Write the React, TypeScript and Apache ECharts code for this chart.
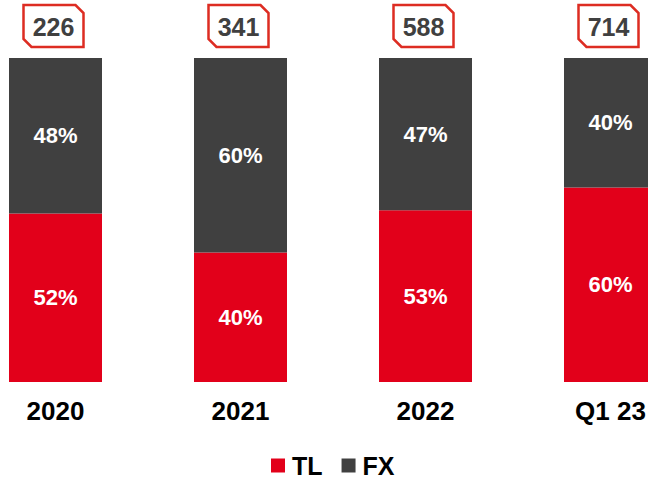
import React, { useEffect, useRef } from "react";
import * as echarts from "echarts";

const categories = ["2020", "2021", "2022", "Q1 23"];
const tlShare = [52, 40, 53, 60];
const fxShare = [48, 60, 47, 40];
const totals = [226, 341, 588, 714];

const RED = "#E2001A";
const DARK = "#404040";
const FONT = "'Liberation Sans', Arial, sans-serif";
const SHIFT = 37;

export default function App() {
  const ref = useRef<HTMLDivElement>(null);
  useEffect(() => {
    if (!ref.current) return;
    const chart = echarts.init(ref.current, null, { renderer: "svg" });
    const boxW = 60;
    const boxH = 42;
    const cut = 8;
    chart.setOption({
      animation: false,
      textStyle: { fontFamily: FONT },
      grid: { left: 0, width: 740, top: 58, height: 324, containLabel: false },
      legend: {
        data: ["TL", "FX"],
        left: 266 + SHIFT,
        top: 448,
        icon: "rect",
        itemWidth: 14,
        itemHeight: 14,
        itemGap: 19,
        textStyle: {
          fontSize: 25,
          fontWeight: "bold",
          color: "#000",
          fontFamily: FONT,
          padding: [0, 0, 0, 2],
        },
      },
      xAxis: {
        type: "category",
        data: categories,
        axisLine: { show: false },
        axisTick: { show: false },
        axisLabel: {
          fontSize: 26,
          fontWeight: "bold",
          color: "#000",
          fontFamily: FONT,
          margin: 16,
        },
      },
      yAxis: { type: "value", min: 0, max: 100, show: false, splitLine: { show: false } },
      series: [
        {
          name: "TL",
          type: "bar",
          stack: "s",
          barWidth: 93,
          data: tlShare,
          itemStyle: { color: RED },
          label: {
            show: true,
            position: "inside",
            formatter: "{c}%",
            color: "#fff",
            fontSize: 22,
            fontWeight: "bold",
            fontFamily: FONT,
          },
        },
        {
          name: "FX",
          type: "bar",
          stack: "s",
          barWidth: 93,
          data: fxShare,
          itemStyle: { color: DARK },
          label: {
            show: true,
            position: "inside",
            formatter: "{c}%",
            color: "#fff",
            fontSize: 22,
            fontWeight: "bold",
            fontFamily: FONT,
          },
        },
        {
          name: "total",
          type: "custom",
          clip: false,
          silent: true,
          data: totals.map((t, i) => [i, 100, t]),
          renderItem: (params: any, api: any) => {
            const p = api.coord([api.value(0), api.value(1)]);
            const cx = p[0] - 2;
            const y1 = p[1] - 11;
            const y0 = y1 - boxH;
            const x0 = cx - boxW / 2;
            const x1 = cx + boxW / 2;
            return {
              type: "group",
              children: [
                {
                  type: "polygon",
                  shape: {
                    points: [
                      [x0, y0],
                      [x1 - cut, y0],
                      [x1, y0 + cut],
                      [x1, y1],
                      [x0 + cut, y1],
                      [x0, y1 - cut],
                    ],
                  },
                  style: { fill: "#fff", stroke: "#DD2C22", lineWidth: 2.5 },
                },
                {
                  type: "text",
                  x: cx,
                  y: (y0 + y1) / 2 + 1,
                  style: {
                    text: String(api.value(2)),
                    fill: DARK,
                    font: `bold 25px ${FONT}`,
                    align: "center",
                    verticalAlign: "middle",
                  },
                },
              ],
            };
          },
        },
      ],
    });
    return () => chart.dispose();
  }, []);
  return (
    <div
      style={{
        position: "absolute",
        left: 0,
        top: 0,
        width: 648,
        height: 480,
        overflow: "hidden",
      }}
    >
      <div
        ref={ref}
        style={{ position: "absolute", left: -SHIFT, top: 0, width: 740, height: 480 }}
      />
    </div>
  );
}
